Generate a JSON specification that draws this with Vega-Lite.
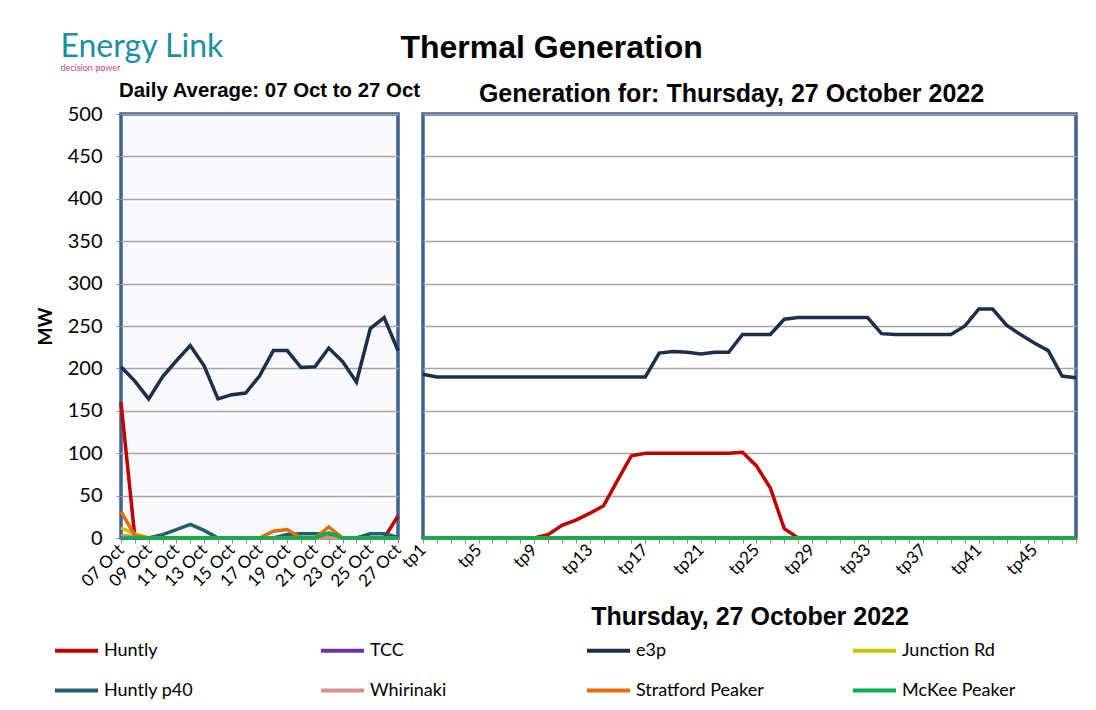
{
  "$schema": "https://vega.github.io/schema/vega-lite/v6.json",
  "background": "white",
  "padding": {"left": 34, "top": 30, "right": 18, "bottom": 5},
  "title": {"text": "Energy Link", "subtitle": "decision power", "anchor": "start", "font": "Lato", "fontSize": 32, "fontWeight": "normal", "color": "#1b8fa3", "subtitleFont": "Lato", "subtitleFontSize": 9, "subtitleColor": "#d1417a", "subtitlePadding": 0, "dx": 26, "dy": 46},
  "datasets": {
    "daily": [
      {"series":"Huntly","x":"07 Oct","i":1,"mw":160},{"series":"Huntly","x":"08 Oct","i":2,"mw":1},{"series":"Huntly","x":"09 Oct","i":3,"mw":0},{"series":"Huntly","x":"10 Oct","i":4,"mw":0},{"series":"Huntly","x":"11 Oct","i":5,"mw":0},{"series":"Huntly","x":"12 Oct","i":6,"mw":0},{"series":"Huntly","x":"13 Oct","i":7,"mw":0},{"series":"Huntly","x":"14 Oct","i":8,"mw":0},{"series":"Huntly","x":"15 Oct","i":9,"mw":0},{"series":"Huntly","x":"16 Oct","i":10,"mw":0},{"series":"Huntly","x":"17 Oct","i":11,"mw":0},{"series":"Huntly","x":"18 Oct","i":12,"mw":0},{"series":"Huntly","x":"19 Oct","i":13,"mw":0},{"series":"Huntly","x":"20 Oct","i":14,"mw":0},{"series":"Huntly","x":"21 Oct","i":15,"mw":0},{"series":"Huntly","x":"22 Oct","i":16,"mw":0},{"series":"Huntly","x":"23 Oct","i":17,"mw":0},{"series":"Huntly","x":"24 Oct","i":18,"mw":0},{"series":"Huntly","x":"25 Oct","i":19,"mw":0},{"series":"Huntly","x":"26 Oct","i":20,"mw":0},{"series":"Huntly","x":"27 Oct","i":21,"mw":26},
      {"series":"TCC","x":"07 Oct","i":1,"mw":0},{"series":"TCC","x":"08 Oct","i":2,"mw":0},{"series":"TCC","x":"09 Oct","i":3,"mw":0},{"series":"TCC","x":"10 Oct","i":4,"mw":0},{"series":"TCC","x":"11 Oct","i":5,"mw":0},{"series":"TCC","x":"12 Oct","i":6,"mw":0},{"series":"TCC","x":"13 Oct","i":7,"mw":0},{"series":"TCC","x":"14 Oct","i":8,"mw":0},{"series":"TCC","x":"15 Oct","i":9,"mw":0},{"series":"TCC","x":"16 Oct","i":10,"mw":0},{"series":"TCC","x":"17 Oct","i":11,"mw":0},{"series":"TCC","x":"18 Oct","i":12,"mw":0},{"series":"TCC","x":"19 Oct","i":13,"mw":0},{"series":"TCC","x":"20 Oct","i":14,"mw":0},{"series":"TCC","x":"21 Oct","i":15,"mw":0},{"series":"TCC","x":"22 Oct","i":16,"mw":0},{"series":"TCC","x":"23 Oct","i":17,"mw":0},{"series":"TCC","x":"24 Oct","i":18,"mw":0},{"series":"TCC","x":"25 Oct","i":19,"mw":0},{"series":"TCC","x":"26 Oct","i":20,"mw":0},{"series":"TCC","x":"27 Oct","i":21,"mw":0},
      {"series":"e3p","x":"07 Oct","i":1,"mw":202},{"series":"e3p","x":"08 Oct","i":2,"mw":185},{"series":"e3p","x":"09 Oct","i":3,"mw":164},{"series":"e3p","x":"10 Oct","i":4,"mw":190},{"series":"e3p","x":"11 Oct","i":5,"mw":209},{"series":"e3p","x":"12 Oct","i":6,"mw":227},{"series":"e3p","x":"13 Oct","i":7,"mw":203},{"series":"e3p","x":"14 Oct","i":8,"mw":164},{"series":"e3p","x":"15 Oct","i":9,"mw":169},{"series":"e3p","x":"16 Oct","i":10,"mw":171},{"series":"e3p","x":"17 Oct","i":11,"mw":191},{"series":"e3p","x":"18 Oct","i":12,"mw":221},{"series":"e3p","x":"19 Oct","i":13,"mw":221},{"series":"e3p","x":"20 Oct","i":14,"mw":201},{"series":"e3p","x":"21 Oct","i":15,"mw":202},{"series":"e3p","x":"22 Oct","i":16,"mw":224},{"series":"e3p","x":"23 Oct","i":17,"mw":208},{"series":"e3p","x":"24 Oct","i":18,"mw":184},{"series":"e3p","x":"25 Oct","i":19,"mw":247},{"series":"e3p","x":"26 Oct","i":20,"mw":260},{"series":"e3p","x":"27 Oct","i":21,"mw":221},
      {"series":"Junction Rd","x":"07 Oct","i":1,"mw":12},{"series":"Junction Rd","x":"08 Oct","i":2,"mw":5},{"series":"Junction Rd","x":"09 Oct","i":3,"mw":0},{"series":"Junction Rd","x":"10 Oct","i":4,"mw":0},{"series":"Junction Rd","x":"11 Oct","i":5,"mw":0},{"series":"Junction Rd","x":"12 Oct","i":6,"mw":0},{"series":"Junction Rd","x":"13 Oct","i":7,"mw":0},{"series":"Junction Rd","x":"14 Oct","i":8,"mw":0},{"series":"Junction Rd","x":"15 Oct","i":9,"mw":0},{"series":"Junction Rd","x":"16 Oct","i":10,"mw":0},{"series":"Junction Rd","x":"17 Oct","i":11,"mw":0},{"series":"Junction Rd","x":"18 Oct","i":12,"mw":0},{"series":"Junction Rd","x":"19 Oct","i":13,"mw":0},{"series":"Junction Rd","x":"20 Oct","i":14,"mw":0},{"series":"Junction Rd","x":"21 Oct","i":15,"mw":0},{"series":"Junction Rd","x":"22 Oct","i":16,"mw":0},{"series":"Junction Rd","x":"23 Oct","i":17,"mw":0},{"series":"Junction Rd","x":"24 Oct","i":18,"mw":0},{"series":"Junction Rd","x":"25 Oct","i":19,"mw":0},{"series":"Junction Rd","x":"26 Oct","i":20,"mw":0},{"series":"Junction Rd","x":"27 Oct","i":21,"mw":0},
      {"series":"Huntly p40","x":"07 Oct","i":1,"mw":0},{"series":"Huntly p40","x":"08 Oct","i":2,"mw":0},{"series":"Huntly p40","x":"09 Oct","i":3,"mw":0},{"series":"Huntly p40","x":"10 Oct","i":4,"mw":4},{"series":"Huntly p40","x":"11 Oct","i":5,"mw":10},{"series":"Huntly p40","x":"12 Oct","i":6,"mw":16},{"series":"Huntly p40","x":"13 Oct","i":7,"mw":9},{"series":"Huntly p40","x":"14 Oct","i":8,"mw":0},{"series":"Huntly p40","x":"15 Oct","i":9,"mw":0},{"series":"Huntly p40","x":"16 Oct","i":10,"mw":0},{"series":"Huntly p40","x":"17 Oct","i":11,"mw":0},{"series":"Huntly p40","x":"18 Oct","i":12,"mw":0},{"series":"Huntly p40","x":"19 Oct","i":13,"mw":4},{"series":"Huntly p40","x":"20 Oct","i":14,"mw":5},{"series":"Huntly p40","x":"21 Oct","i":15,"mw":5},{"series":"Huntly p40","x":"22 Oct","i":16,"mw":5},{"series":"Huntly p40","x":"23 Oct","i":17,"mw":0},{"series":"Huntly p40","x":"24 Oct","i":18,"mw":0},{"series":"Huntly p40","x":"25 Oct","i":19,"mw":5},{"series":"Huntly p40","x":"26 Oct","i":20,"mw":5},{"series":"Huntly p40","x":"27 Oct","i":21,"mw":1},
      {"series":"Whirinaki","x":"07 Oct","i":1,"mw":3},{"series":"Whirinaki","x":"08 Oct","i":2,"mw":2},{"series":"Whirinaki","x":"09 Oct","i":3,"mw":0},{"series":"Whirinaki","x":"10 Oct","i":4,"mw":0},{"series":"Whirinaki","x":"11 Oct","i":5,"mw":0},{"series":"Whirinaki","x":"12 Oct","i":6,"mw":0},{"series":"Whirinaki","x":"13 Oct","i":7,"mw":0},{"series":"Whirinaki","x":"14 Oct","i":8,"mw":0},{"series":"Whirinaki","x":"15 Oct","i":9,"mw":0},{"series":"Whirinaki","x":"16 Oct","i":10,"mw":0},{"series":"Whirinaki","x":"17 Oct","i":11,"mw":0},{"series":"Whirinaki","x":"18 Oct","i":12,"mw":0},{"series":"Whirinaki","x":"19 Oct","i":13,"mw":0},{"series":"Whirinaki","x":"20 Oct","i":14,"mw":0},{"series":"Whirinaki","x":"21 Oct","i":15,"mw":0},{"series":"Whirinaki","x":"22 Oct","i":16,"mw":0},{"series":"Whirinaki","x":"23 Oct","i":17,"mw":0},{"series":"Whirinaki","x":"24 Oct","i":18,"mw":0},{"series":"Whirinaki","x":"25 Oct","i":19,"mw":0},{"series":"Whirinaki","x":"26 Oct","i":20,"mw":0},{"series":"Whirinaki","x":"27 Oct","i":21,"mw":0},
      {"series":"Stratford Peaker","x":"07 Oct","i":1,"mw":31},{"series":"Stratford Peaker","x":"08 Oct","i":2,"mw":3},{"series":"Stratford Peaker","x":"09 Oct","i":3,"mw":0},{"series":"Stratford Peaker","x":"10 Oct","i":4,"mw":0},{"series":"Stratford Peaker","x":"11 Oct","i":5,"mw":0},{"series":"Stratford Peaker","x":"12 Oct","i":6,"mw":0},{"series":"Stratford Peaker","x":"13 Oct","i":7,"mw":0},{"series":"Stratford Peaker","x":"14 Oct","i":8,"mw":0},{"series":"Stratford Peaker","x":"15 Oct","i":9,"mw":0},{"series":"Stratford Peaker","x":"16 Oct","i":10,"mw":0},{"series":"Stratford Peaker","x":"17 Oct","i":11,"mw":0},{"series":"Stratford Peaker","x":"18 Oct","i":12,"mw":8},{"series":"Stratford Peaker","x":"19 Oct","i":13,"mw":10},{"series":"Stratford Peaker","x":"20 Oct","i":14,"mw":0},{"series":"Stratford Peaker","x":"21 Oct","i":15,"mw":0},{"series":"Stratford Peaker","x":"22 Oct","i":16,"mw":13},{"series":"Stratford Peaker","x":"23 Oct","i":17,"mw":0},{"series":"Stratford Peaker","x":"24 Oct","i":18,"mw":0},{"series":"Stratford Peaker","x":"25 Oct","i":19,"mw":0},{"series":"Stratford Peaker","x":"26 Oct","i":20,"mw":0},{"series":"Stratford Peaker","x":"27 Oct","i":21,"mw":0},
      {"series":"McKee Peaker","x":"07 Oct","i":1,"mw":0},{"series":"McKee Peaker","x":"08 Oct","i":2,"mw":0},{"series":"McKee Peaker","x":"09 Oct","i":3,"mw":0},{"series":"McKee Peaker","x":"10 Oct","i":4,"mw":0},{"series":"McKee Peaker","x":"11 Oct","i":5,"mw":0},{"series":"McKee Peaker","x":"12 Oct","i":6,"mw":0},{"series":"McKee Peaker","x":"13 Oct","i":7,"mw":0},{"series":"McKee Peaker","x":"14 Oct","i":8,"mw":0},{"series":"McKee Peaker","x":"15 Oct","i":9,"mw":0},{"series":"McKee Peaker","x":"16 Oct","i":10,"mw":0},{"series":"McKee Peaker","x":"17 Oct","i":11,"mw":0},{"series":"McKee Peaker","x":"18 Oct","i":12,"mw":0},{"series":"McKee Peaker","x":"19 Oct","i":13,"mw":0},{"series":"McKee Peaker","x":"20 Oct","i":14,"mw":0},{"series":"McKee Peaker","x":"21 Oct","i":15,"mw":0},{"series":"McKee Peaker","x":"22 Oct","i":16,"mw":6},{"series":"McKee Peaker","x":"23 Oct","i":17,"mw":0},{"series":"McKee Peaker","x":"24 Oct","i":18,"mw":0},{"series":"McKee Peaker","x":"25 Oct","i":19,"mw":0},{"series":"McKee Peaker","x":"26 Oct","i":20,"mw":0},{"series":"McKee Peaker","x":"27 Oct","i":21,"mw":0}
    ],
    "tp": [
      {"series":"Huntly","x":"tp1","i":1,"mw":0},{"series":"Huntly","x":"tp2","i":2,"mw":0},{"series":"Huntly","x":"tp3","i":3,"mw":0},{"series":"Huntly","x":"tp4","i":4,"mw":0},{"series":"Huntly","x":"tp5","i":5,"mw":0},{"series":"Huntly","x":"tp6","i":6,"mw":0},{"series":"Huntly","x":"tp7","i":7,"mw":0},{"series":"Huntly","x":"tp8","i":8,"mw":0},{"series":"Huntly","x":"tp9","i":9,"mw":0},{"series":"Huntly","x":"tp10","i":10,"mw":4},{"series":"Huntly","x":"tp11","i":11,"mw":15},{"series":"Huntly","x":"tp12","i":12,"mw":21},{"series":"Huntly","x":"tp13","i":13,"mw":29},{"series":"Huntly","x":"tp14","i":14,"mw":38},{"series":"Huntly","x":"tp15","i":15,"mw":68},{"series":"Huntly","x":"tp16","i":16,"mw":97},{"series":"Huntly","x":"tp17","i":17,"mw":100},{"series":"Huntly","x":"tp18","i":18,"mw":100},{"series":"Huntly","x":"tp19","i":19,"mw":100},{"series":"Huntly","x":"tp20","i":20,"mw":100},{"series":"Huntly","x":"tp21","i":21,"mw":100},{"series":"Huntly","x":"tp22","i":22,"mw":100},{"series":"Huntly","x":"tp23","i":23,"mw":100},{"series":"Huntly","x":"tp24","i":24,"mw":101},{"series":"Huntly","x":"tp25","i":25,"mw":85},{"series":"Huntly","x":"tp26","i":26,"mw":59},{"series":"Huntly","x":"tp27","i":27,"mw":11},{"series":"Huntly","x":"tp28","i":28,"mw":0},{"series":"Huntly","x":"tp29","i":29,"mw":0},{"series":"Huntly","x":"tp30","i":30,"mw":0},{"series":"Huntly","x":"tp31","i":31,"mw":0},{"series":"Huntly","x":"tp32","i":32,"mw":0},{"series":"Huntly","x":"tp33","i":33,"mw":0},{"series":"Huntly","x":"tp34","i":34,"mw":0},{"series":"Huntly","x":"tp35","i":35,"mw":0},{"series":"Huntly","x":"tp36","i":36,"mw":0},{"series":"Huntly","x":"tp37","i":37,"mw":0},{"series":"Huntly","x":"tp38","i":38,"mw":0},{"series":"Huntly","x":"tp39","i":39,"mw":0},{"series":"Huntly","x":"tp40","i":40,"mw":0},{"series":"Huntly","x":"tp41","i":41,"mw":0},{"series":"Huntly","x":"tp42","i":42,"mw":0},{"series":"Huntly","x":"tp43","i":43,"mw":0},{"series":"Huntly","x":"tp44","i":44,"mw":0},{"series":"Huntly","x":"tp45","i":45,"mw":0},{"series":"Huntly","x":"tp46","i":46,"mw":0},{"series":"Huntly","x":"tp47","i":47,"mw":0},{"series":"Huntly","x":"tp48","i":48,"mw":0},
      {"series":"TCC","x":"tp1","i":1,"mw":0},{"series":"TCC","x":"tp2","i":2,"mw":0},{"series":"TCC","x":"tp3","i":3,"mw":0},{"series":"TCC","x":"tp4","i":4,"mw":0},{"series":"TCC","x":"tp5","i":5,"mw":0},{"series":"TCC","x":"tp6","i":6,"mw":0},{"series":"TCC","x":"tp7","i":7,"mw":0},{"series":"TCC","x":"tp8","i":8,"mw":0},{"series":"TCC","x":"tp9","i":9,"mw":0},{"series":"TCC","x":"tp10","i":10,"mw":0},{"series":"TCC","x":"tp11","i":11,"mw":0},{"series":"TCC","x":"tp12","i":12,"mw":0},{"series":"TCC","x":"tp13","i":13,"mw":0},{"series":"TCC","x":"tp14","i":14,"mw":0},{"series":"TCC","x":"tp15","i":15,"mw":0},{"series":"TCC","x":"tp16","i":16,"mw":0},{"series":"TCC","x":"tp17","i":17,"mw":0},{"series":"TCC","x":"tp18","i":18,"mw":0},{"series":"TCC","x":"tp19","i":19,"mw":0},{"series":"TCC","x":"tp20","i":20,"mw":0},{"series":"TCC","x":"tp21","i":21,"mw":0},{"series":"TCC","x":"tp22","i":22,"mw":0},{"series":"TCC","x":"tp23","i":23,"mw":0},{"series":"TCC","x":"tp24","i":24,"mw":0},{"series":"TCC","x":"tp25","i":25,"mw":0},{"series":"TCC","x":"tp26","i":26,"mw":0},{"series":"TCC","x":"tp27","i":27,"mw":0},{"series":"TCC","x":"tp28","i":28,"mw":0},{"series":"TCC","x":"tp29","i":29,"mw":0},{"series":"TCC","x":"tp30","i":30,"mw":0},{"series":"TCC","x":"tp31","i":31,"mw":0},{"series":"TCC","x":"tp32","i":32,"mw":0},{"series":"TCC","x":"tp33","i":33,"mw":0},{"series":"TCC","x":"tp34","i":34,"mw":0},{"series":"TCC","x":"tp35","i":35,"mw":0},{"series":"TCC","x":"tp36","i":36,"mw":0},{"series":"TCC","x":"tp37","i":37,"mw":0},{"series":"TCC","x":"tp38","i":38,"mw":0},{"series":"TCC","x":"tp39","i":39,"mw":0},{"series":"TCC","x":"tp40","i":40,"mw":0},{"series":"TCC","x":"tp41","i":41,"mw":0},{"series":"TCC","x":"tp42","i":42,"mw":0},{"series":"TCC","x":"tp43","i":43,"mw":0},{"series":"TCC","x":"tp44","i":44,"mw":0},{"series":"TCC","x":"tp45","i":45,"mw":0},{"series":"TCC","x":"tp46","i":46,"mw":0},{"series":"TCC","x":"tp47","i":47,"mw":0},{"series":"TCC","x":"tp48","i":48,"mw":0},
      {"series":"e3p","x":"tp1","i":1,"mw":193},{"series":"e3p","x":"tp2","i":2,"mw":190},{"series":"e3p","x":"tp3","i":3,"mw":190},{"series":"e3p","x":"tp4","i":4,"mw":190},{"series":"e3p","x":"tp5","i":5,"mw":190},{"series":"e3p","x":"tp6","i":6,"mw":190},{"series":"e3p","x":"tp7","i":7,"mw":190},{"series":"e3p","x":"tp8","i":8,"mw":190},{"series":"e3p","x":"tp9","i":9,"mw":190},{"series":"e3p","x":"tp10","i":10,"mw":190},{"series":"e3p","x":"tp11","i":11,"mw":190},{"series":"e3p","x":"tp12","i":12,"mw":190},{"series":"e3p","x":"tp13","i":13,"mw":190},{"series":"e3p","x":"tp14","i":14,"mw":190},{"series":"e3p","x":"tp15","i":15,"mw":190},{"series":"e3p","x":"tp16","i":16,"mw":190},{"series":"e3p","x":"tp17","i":17,"mw":190},{"series":"e3p","x":"tp18","i":18,"mw":218},{"series":"e3p","x":"tp19","i":19,"mw":220},{"series":"e3p","x":"tp20","i":20,"mw":219},{"series":"e3p","x":"tp21","i":21,"mw":217},{"series":"e3p","x":"tp22","i":22,"mw":219},{"series":"e3p","x":"tp23","i":23,"mw":219},{"series":"e3p","x":"tp24","i":24,"mw":240},{"series":"e3p","x":"tp25","i":25,"mw":240},{"series":"e3p","x":"tp26","i":26,"mw":240},{"series":"e3p","x":"tp27","i":27,"mw":258},{"series":"e3p","x":"tp28","i":28,"mw":260},{"series":"e3p","x":"tp29","i":29,"mw":260},{"series":"e3p","x":"tp30","i":30,"mw":260},{"series":"e3p","x":"tp31","i":31,"mw":260},{"series":"e3p","x":"tp32","i":32,"mw":260},{"series":"e3p","x":"tp33","i":33,"mw":260},{"series":"e3p","x":"tp34","i":34,"mw":241},{"series":"e3p","x":"tp35","i":35,"mw":240},{"series":"e3p","x":"tp36","i":36,"mw":240},{"series":"e3p","x":"tp37","i":37,"mw":240},{"series":"e3p","x":"tp38","i":38,"mw":240},{"series":"e3p","x":"tp39","i":39,"mw":240},{"series":"e3p","x":"tp40","i":40,"mw":250},{"series":"e3p","x":"tp41","i":41,"mw":270},{"series":"e3p","x":"tp42","i":42,"mw":270},{"series":"e3p","x":"tp43","i":43,"mw":251},{"series":"e3p","x":"tp44","i":44,"mw":240},{"series":"e3p","x":"tp45","i":45,"mw":230},{"series":"e3p","x":"tp46","i":46,"mw":221},{"series":"e3p","x":"tp47","i":47,"mw":191},{"series":"e3p","x":"tp48","i":48,"mw":189},
      {"series":"Junction Rd","x":"tp1","i":1,"mw":0},{"series":"Junction Rd","x":"tp2","i":2,"mw":0},{"series":"Junction Rd","x":"tp3","i":3,"mw":0},{"series":"Junction Rd","x":"tp4","i":4,"mw":0},{"series":"Junction Rd","x":"tp5","i":5,"mw":0},{"series":"Junction Rd","x":"tp6","i":6,"mw":0},{"series":"Junction Rd","x":"tp7","i":7,"mw":0},{"series":"Junction Rd","x":"tp8","i":8,"mw":0},{"series":"Junction Rd","x":"tp9","i":9,"mw":0},{"series":"Junction Rd","x":"tp10","i":10,"mw":0},{"series":"Junction Rd","x":"tp11","i":11,"mw":0},{"series":"Junction Rd","x":"tp12","i":12,"mw":0},{"series":"Junction Rd","x":"tp13","i":13,"mw":0},{"series":"Junction Rd","x":"tp14","i":14,"mw":0},{"series":"Junction Rd","x":"tp15","i":15,"mw":0},{"series":"Junction Rd","x":"tp16","i":16,"mw":0},{"series":"Junction Rd","x":"tp17","i":17,"mw":0},{"series":"Junction Rd","x":"tp18","i":18,"mw":0},{"series":"Junction Rd","x":"tp19","i":19,"mw":0},{"series":"Junction Rd","x":"tp20","i":20,"mw":0},{"series":"Junction Rd","x":"tp21","i":21,"mw":0},{"series":"Junction Rd","x":"tp22","i":22,"mw":0},{"series":"Junction Rd","x":"tp23","i":23,"mw":0},{"series":"Junction Rd","x":"tp24","i":24,"mw":0},{"series":"Junction Rd","x":"tp25","i":25,"mw":0},{"series":"Junction Rd","x":"tp26","i":26,"mw":0},{"series":"Junction Rd","x":"tp27","i":27,"mw":0},{"series":"Junction Rd","x":"tp28","i":28,"mw":0},{"series":"Junction Rd","x":"tp29","i":29,"mw":0},{"series":"Junction Rd","x":"tp30","i":30,"mw":0},{"series":"Junction Rd","x":"tp31","i":31,"mw":0},{"series":"Junction Rd","x":"tp32","i":32,"mw":0},{"series":"Junction Rd","x":"tp33","i":33,"mw":0},{"series":"Junction Rd","x":"tp34","i":34,"mw":0},{"series":"Junction Rd","x":"tp35","i":35,"mw":0},{"series":"Junction Rd","x":"tp36","i":36,"mw":0},{"series":"Junction Rd","x":"tp37","i":37,"mw":0},{"series":"Junction Rd","x":"tp38","i":38,"mw":0},{"series":"Junction Rd","x":"tp39","i":39,"mw":0},{"series":"Junction Rd","x":"tp40","i":40,"mw":0},{"series":"Junction Rd","x":"tp41","i":41,"mw":0},{"series":"Junction Rd","x":"tp42","i":42,"mw":0},{"series":"Junction Rd","x":"tp43","i":43,"mw":0},{"series":"Junction Rd","x":"tp44","i":44,"mw":0},{"series":"Junction Rd","x":"tp45","i":45,"mw":0},{"series":"Junction Rd","x":"tp46","i":46,"mw":0},{"series":"Junction Rd","x":"tp47","i":47,"mw":0},{"series":"Junction Rd","x":"tp48","i":48,"mw":0},
      {"series":"Huntly p40","x":"tp1","i":1,"mw":0},{"series":"Huntly p40","x":"tp2","i":2,"mw":0},{"series":"Huntly p40","x":"tp3","i":3,"mw":0},{"series":"Huntly p40","x":"tp4","i":4,"mw":0},{"series":"Huntly p40","x":"tp5","i":5,"mw":0},{"series":"Huntly p40","x":"tp6","i":6,"mw":0},{"series":"Huntly p40","x":"tp7","i":7,"mw":0},{"series":"Huntly p40","x":"tp8","i":8,"mw":0},{"series":"Huntly p40","x":"tp9","i":9,"mw":0},{"series":"Huntly p40","x":"tp10","i":10,"mw":0},{"series":"Huntly p40","x":"tp11","i":11,"mw":0},{"series":"Huntly p40","x":"tp12","i":12,"mw":0},{"series":"Huntly p40","x":"tp13","i":13,"mw":0},{"series":"Huntly p40","x":"tp14","i":14,"mw":0},{"series":"Huntly p40","x":"tp15","i":15,"mw":0},{"series":"Huntly p40","x":"tp16","i":16,"mw":0},{"series":"Huntly p40","x":"tp17","i":17,"mw":0},{"series":"Huntly p40","x":"tp18","i":18,"mw":0},{"series":"Huntly p40","x":"tp19","i":19,"mw":0},{"series":"Huntly p40","x":"tp20","i":20,"mw":0},{"series":"Huntly p40","x":"tp21","i":21,"mw":0},{"series":"Huntly p40","x":"tp22","i":22,"mw":0},{"series":"Huntly p40","x":"tp23","i":23,"mw":0},{"series":"Huntly p40","x":"tp24","i":24,"mw":0},{"series":"Huntly p40","x":"tp25","i":25,"mw":0},{"series":"Huntly p40","x":"tp26","i":26,"mw":0},{"series":"Huntly p40","x":"tp27","i":27,"mw":0},{"series":"Huntly p40","x":"tp28","i":28,"mw":0},{"series":"Huntly p40","x":"tp29","i":29,"mw":0},{"series":"Huntly p40","x":"tp30","i":30,"mw":0},{"series":"Huntly p40","x":"tp31","i":31,"mw":0},{"series":"Huntly p40","x":"tp32","i":32,"mw":0},{"series":"Huntly p40","x":"tp33","i":33,"mw":0},{"series":"Huntly p40","x":"tp34","i":34,"mw":0},{"series":"Huntly p40","x":"tp35","i":35,"mw":0},{"series":"Huntly p40","x":"tp36","i":36,"mw":0},{"series":"Huntly p40","x":"tp37","i":37,"mw":0},{"series":"Huntly p40","x":"tp38","i":38,"mw":0},{"series":"Huntly p40","x":"tp39","i":39,"mw":0},{"series":"Huntly p40","x":"tp40","i":40,"mw":0},{"series":"Huntly p40","x":"tp41","i":41,"mw":0},{"series":"Huntly p40","x":"tp42","i":42,"mw":0},{"series":"Huntly p40","x":"tp43","i":43,"mw":0},{"series":"Huntly p40","x":"tp44","i":44,"mw":0},{"series":"Huntly p40","x":"tp45","i":45,"mw":0},{"series":"Huntly p40","x":"tp46","i":46,"mw":0},{"series":"Huntly p40","x":"tp47","i":47,"mw":0},{"series":"Huntly p40","x":"tp48","i":48,"mw":0},
      {"series":"Whirinaki","x":"tp1","i":1,"mw":0},{"series":"Whirinaki","x":"tp2","i":2,"mw":0},{"series":"Whirinaki","x":"tp3","i":3,"mw":0},{"series":"Whirinaki","x":"tp4","i":4,"mw":0},{"series":"Whirinaki","x":"tp5","i":5,"mw":0},{"series":"Whirinaki","x":"tp6","i":6,"mw":0},{"series":"Whirinaki","x":"tp7","i":7,"mw":0},{"series":"Whirinaki","x":"tp8","i":8,"mw":0},{"series":"Whirinaki","x":"tp9","i":9,"mw":0},{"series":"Whirinaki","x":"tp10","i":10,"mw":0},{"series":"Whirinaki","x":"tp11","i":11,"mw":0},{"series":"Whirinaki","x":"tp12","i":12,"mw":0},{"series":"Whirinaki","x":"tp13","i":13,"mw":0},{"series":"Whirinaki","x":"tp14","i":14,"mw":0},{"series":"Whirinaki","x":"tp15","i":15,"mw":0},{"series":"Whirinaki","x":"tp16","i":16,"mw":0},{"series":"Whirinaki","x":"tp17","i":17,"mw":0},{"series":"Whirinaki","x":"tp18","i":18,"mw":0},{"series":"Whirinaki","x":"tp19","i":19,"mw":0},{"series":"Whirinaki","x":"tp20","i":20,"mw":0},{"series":"Whirinaki","x":"tp21","i":21,"mw":0},{"series":"Whirinaki","x":"tp22","i":22,"mw":0},{"series":"Whirinaki","x":"tp23","i":23,"mw":0},{"series":"Whirinaki","x":"tp24","i":24,"mw":0},{"series":"Whirinaki","x":"tp25","i":25,"mw":0},{"series":"Whirinaki","x":"tp26","i":26,"mw":0},{"series":"Whirinaki","x":"tp27","i":27,"mw":0},{"series":"Whirinaki","x":"tp28","i":28,"mw":0},{"series":"Whirinaki","x":"tp29","i":29,"mw":0},{"series":"Whirinaki","x":"tp30","i":30,"mw":0},{"series":"Whirinaki","x":"tp31","i":31,"mw":0},{"series":"Whirinaki","x":"tp32","i":32,"mw":0},{"series":"Whirinaki","x":"tp33","i":33,"mw":0},{"series":"Whirinaki","x":"tp34","i":34,"mw":0},{"series":"Whirinaki","x":"tp35","i":35,"mw":0},{"series":"Whirinaki","x":"tp36","i":36,"mw":0},{"series":"Whirinaki","x":"tp37","i":37,"mw":0},{"series":"Whirinaki","x":"tp38","i":38,"mw":0},{"series":"Whirinaki","x":"tp39","i":39,"mw":0},{"series":"Whirinaki","x":"tp40","i":40,"mw":0},{"series":"Whirinaki","x":"tp41","i":41,"mw":0},{"series":"Whirinaki","x":"tp42","i":42,"mw":0},{"series":"Whirinaki","x":"tp43","i":43,"mw":0},{"series":"Whirinaki","x":"tp44","i":44,"mw":0},{"series":"Whirinaki","x":"tp45","i":45,"mw":0},{"series":"Whirinaki","x":"tp46","i":46,"mw":0},{"series":"Whirinaki","x":"tp47","i":47,"mw":0},{"series":"Whirinaki","x":"tp48","i":48,"mw":0},
      {"series":"Stratford Peaker","x":"tp1","i":1,"mw":0},{"series":"Stratford Peaker","x":"tp2","i":2,"mw":0},{"series":"Stratford Peaker","x":"tp3","i":3,"mw":0},{"series":"Stratford Peaker","x":"tp4","i":4,"mw":0},{"series":"Stratford Peaker","x":"tp5","i":5,"mw":0},{"series":"Stratford Peaker","x":"tp6","i":6,"mw":0},{"series":"Stratford Peaker","x":"tp7","i":7,"mw":0},{"series":"Stratford Peaker","x":"tp8","i":8,"mw":0},{"series":"Stratford Peaker","x":"tp9","i":9,"mw":0},{"series":"Stratford Peaker","x":"tp10","i":10,"mw":0},{"series":"Stratford Peaker","x":"tp11","i":11,"mw":0},{"series":"Stratford Peaker","x":"tp12","i":12,"mw":0},{"series":"Stratford Peaker","x":"tp13","i":13,"mw":0},{"series":"Stratford Peaker","x":"tp14","i":14,"mw":0},{"series":"Stratford Peaker","x":"tp15","i":15,"mw":0},{"series":"Stratford Peaker","x":"tp16","i":16,"mw":0},{"series":"Stratford Peaker","x":"tp17","i":17,"mw":0},{"series":"Stratford Peaker","x":"tp18","i":18,"mw":0},{"series":"Stratford Peaker","x":"tp19","i":19,"mw":0},{"series":"Stratford Peaker","x":"tp20","i":20,"mw":0},{"series":"Stratford Peaker","x":"tp21","i":21,"mw":0},{"series":"Stratford Peaker","x":"tp22","i":22,"mw":0},{"series":"Stratford Peaker","x":"tp23","i":23,"mw":0},{"series":"Stratford Peaker","x":"tp24","i":24,"mw":0},{"series":"Stratford Peaker","x":"tp25","i":25,"mw":0},{"series":"Stratford Peaker","x":"tp26","i":26,"mw":0},{"series":"Stratford Peaker","x":"tp27","i":27,"mw":0},{"series":"Stratford Peaker","x":"tp28","i":28,"mw":0},{"series":"Stratford Peaker","x":"tp29","i":29,"mw":0},{"series":"Stratford Peaker","x":"tp30","i":30,"mw":0},{"series":"Stratford Peaker","x":"tp31","i":31,"mw":0},{"series":"Stratford Peaker","x":"tp32","i":32,"mw":0},{"series":"Stratford Peaker","x":"tp33","i":33,"mw":0},{"series":"Stratford Peaker","x":"tp34","i":34,"mw":0},{"series":"Stratford Peaker","x":"tp35","i":35,"mw":0},{"series":"Stratford Peaker","x":"tp36","i":36,"mw":0},{"series":"Stratford Peaker","x":"tp37","i":37,"mw":0},{"series":"Stratford Peaker","x":"tp38","i":38,"mw":0},{"series":"Stratford Peaker","x":"tp39","i":39,"mw":0},{"series":"Stratford Peaker","x":"tp40","i":40,"mw":0},{"series":"Stratford Peaker","x":"tp41","i":41,"mw":0},{"series":"Stratford Peaker","x":"tp42","i":42,"mw":0},{"series":"Stratford Peaker","x":"tp43","i":43,"mw":0},{"series":"Stratford Peaker","x":"tp44","i":44,"mw":0},{"series":"Stratford Peaker","x":"tp45","i":45,"mw":0},{"series":"Stratford Peaker","x":"tp46","i":46,"mw":0},{"series":"Stratford Peaker","x":"tp47","i":47,"mw":0},{"series":"Stratford Peaker","x":"tp48","i":48,"mw":0},
      {"series":"McKee Peaker","x":"tp1","i":1,"mw":0},{"series":"McKee Peaker","x":"tp2","i":2,"mw":0},{"series":"McKee Peaker","x":"tp3","i":3,"mw":0},{"series":"McKee Peaker","x":"tp4","i":4,"mw":0},{"series":"McKee Peaker","x":"tp5","i":5,"mw":0},{"series":"McKee Peaker","x":"tp6","i":6,"mw":0},{"series":"McKee Peaker","x":"tp7","i":7,"mw":0},{"series":"McKee Peaker","x":"tp8","i":8,"mw":0},{"series":"McKee Peaker","x":"tp9","i":9,"mw":0},{"series":"McKee Peaker","x":"tp10","i":10,"mw":0},{"series":"McKee Peaker","x":"tp11","i":11,"mw":0},{"series":"McKee Peaker","x":"tp12","i":12,"mw":0},{"series":"McKee Peaker","x":"tp13","i":13,"mw":0},{"series":"McKee Peaker","x":"tp14","i":14,"mw":0},{"series":"McKee Peaker","x":"tp15","i":15,"mw":0},{"series":"McKee Peaker","x":"tp16","i":16,"mw":0},{"series":"McKee Peaker","x":"tp17","i":17,"mw":0},{"series":"McKee Peaker","x":"tp18","i":18,"mw":0},{"series":"McKee Peaker","x":"tp19","i":19,"mw":0},{"series":"McKee Peaker","x":"tp20","i":20,"mw":0},{"series":"McKee Peaker","x":"tp21","i":21,"mw":0},{"series":"McKee Peaker","x":"tp22","i":22,"mw":0},{"series":"McKee Peaker","x":"tp23","i":23,"mw":0},{"series":"McKee Peaker","x":"tp24","i":24,"mw":0},{"series":"McKee Peaker","x":"tp25","i":25,"mw":0},{"series":"McKee Peaker","x":"tp26","i":26,"mw":0},{"series":"McKee Peaker","x":"tp27","i":27,"mw":0},{"series":"McKee Peaker","x":"tp28","i":28,"mw":0},{"series":"McKee Peaker","x":"tp29","i":29,"mw":0},{"series":"McKee Peaker","x":"tp30","i":30,"mw":0},{"series":"McKee Peaker","x":"tp31","i":31,"mw":0},{"series":"McKee Peaker","x":"tp32","i":32,"mw":0},{"series":"McKee Peaker","x":"tp33","i":33,"mw":0},{"series":"McKee Peaker","x":"tp34","i":34,"mw":0},{"series":"McKee Peaker","x":"tp35","i":35,"mw":0},{"series":"McKee Peaker","x":"tp36","i":36,"mw":0},{"series":"McKee Peaker","x":"tp37","i":37,"mw":0},{"series":"McKee Peaker","x":"tp38","i":38,"mw":0},{"series":"McKee Peaker","x":"tp39","i":39,"mw":0},{"series":"McKee Peaker","x":"tp40","i":40,"mw":0},{"series":"McKee Peaker","x":"tp41","i":41,"mw":0},{"series":"McKee Peaker","x":"tp42","i":42,"mw":0},{"series":"McKee Peaker","x":"tp43","i":43,"mw":0},{"series":"McKee Peaker","x":"tp44","i":44,"mw":0},{"series":"McKee Peaker","x":"tp45","i":45,"mw":0},{"series":"McKee Peaker","x":"tp46","i":46,"mw":0},{"series":"McKee Peaker","x":"tp47","i":47,"mw":0},{"series":"McKee Peaker","x":"tp48","i":48,"mw":0}
    ]
  },
  "vconcat": [
    {
      "title": {"text": "Thermal Generation", "font": "Liberation Sans", "fontSize": 32, "fontWeight": "bold", "anchor": "middle", "color": "black", "dx": -8, "offset": 14},
      "spacing": 25,
      "bounds": "flush",
      "hconcat": [
        {
          "width": 277,
          "height": 424,
          "data": {"name": "daily"},
          "title": {"text": "Daily Average: 07 Oct to 27 Oct", "anchor": "start", "frame": "group", "font": "Liberation Sans", "fontSize": 20.4, "fontWeight": "bold", "color": "black", "offset": 3, "dx": -2},
          "view": {"fill": "#f7f9fc", "stroke": "#3e6190", "strokeWidth": 3.5},
          "mark": {"type": "line", "strokeWidth": 3.5},
          "encoding": {
            "x": {"field": "x", "type": "ordinal", "sort": null, "scale": {"type": "point", "padding": 0},
                  "axis": {"title": null, "labelAngle": -45, "labelAlign": "right", "labelBaseline": "middle", "labelFontSize": 17, "labelPadding": 4, "tickSize": 5, "grid": false,
                           "labelExpr": "toNumber(slice(datum.value, 0, 2)) % 2 == 1 ? datum.value : ''"}},
            "y": {"field": "mw", "type": "quantitative", "scale": {"domain": [0, 500], "nice": false},
                  "axis": {"values": [0, 50, 100, 150, 200, 250, 300, 350, 400, 450, 500], "title": "MW", "titleFont": "Lato", "titleFontSize": 19, "titleFontWeight": "bold", "titlePadding": 12, "labelFontSize": 20, "labelPadding": 14, "tickSize": 5, "grid": true}},
            "color": {"field": "series", "type": "nominal",
                      "scale": {"domain": ["Huntly", "TCC", "e3p", "Junction Rd", "Huntly p40", "Whirinaki", "Stratford Peaker", "McKee Peaker"],
                                "range": ["#c00000", "#7030a0", "#1b2f4d", "#c8c800", "#245e6e", "#d4908e", "#e46c0a", "#00b050"]},
                      "legend": {"orient": "none", "legendX": -68, "legendY": 513, "columns": 4, "title": null, "direction": "horizontal",
                                 "symbolType": "stroke", "symbolStrokeWidth": 4, "symbolSize": 1849, "labelFont": "Lato", "labelFontSize": 18, "labelColor": "black",
                                 "gridAlign": "all", "columnPadding": 81, "rowPadding": 7, "labelOffset": 4}},
            "order": {"field": "i", "type": "quantitative"}
          }
        },
        {
          "width": 653,
          "height": 424,
          "data": {"name": "tp"},
          "title": {"text": "Generation for: Thursday, 27 October 2022", "anchor": "middle", "frame": "group", "font": "Liberation Sans", "fontSize": 25, "fontWeight": "bold", "color": "black", "dx": -18, "offset": 7},
          "view": {"fill": "white", "stroke": "#3e6190", "strokeWidth": 3.5},
          "mark": {"type": "line", "strokeWidth": 3.5},
          "encoding": {
            "x": {"field": "x", "type": "ordinal", "sort": null, "scale": {"type": "point", "padding": 0},
                  "axis": {"title": "Thursday, 27 October 2022", "titleFont": "Liberation Sans", "titleFontSize": 25, "titleFontWeight": "bold", "titlePadding": 27,
                           "labelAngle": -45, "labelAlign": "right", "labelBaseline": "middle", "labelFontSize": 17, "labelPadding": 4, "tickSize": 5, "grid": false,
                           "labelExpr": "(toNumber(slice(datum.value, 2)) - 1) % 4 == 0 ? datum.value : ''"}},
            "y": {"field": "mw", "type": "quantitative", "scale": {"domain": [0, 500], "nice": false},
                  "axis": {"values": [0, 50, 100, 150, 200, 250, 300, 350, 400, 450, 500], "title": null, "labels": false, "ticks": false, "grid": true}},
            "color": {"field": "series", "type": "nominal",
                      "scale": {"domain": ["Huntly", "TCC", "e3p", "Junction Rd", "Huntly p40", "Whirinaki", "Stratford Peaker", "McKee Peaker"],
                                "range": ["#c00000", "#7030a0", "#1b2f4d", "#c8c800", "#245e6e", "#d4908e", "#e46c0a", "#00b050"]}},
            "order": {"field": "i", "type": "quantitative"}
          }
        }
      ]
    }
  ],
  "config": {
    "font": "Lato",
    "view": {"stroke": null},
    "axis": {"labelFont": "Lato", "labelColor": "black", "titleColor": "black", "gridColor": "#a6a6a6", "gridWidth": 1.5, "tickColor": "#8c8c8c", "domain": false},
    "legend": {"padding": 0}
  }
}
